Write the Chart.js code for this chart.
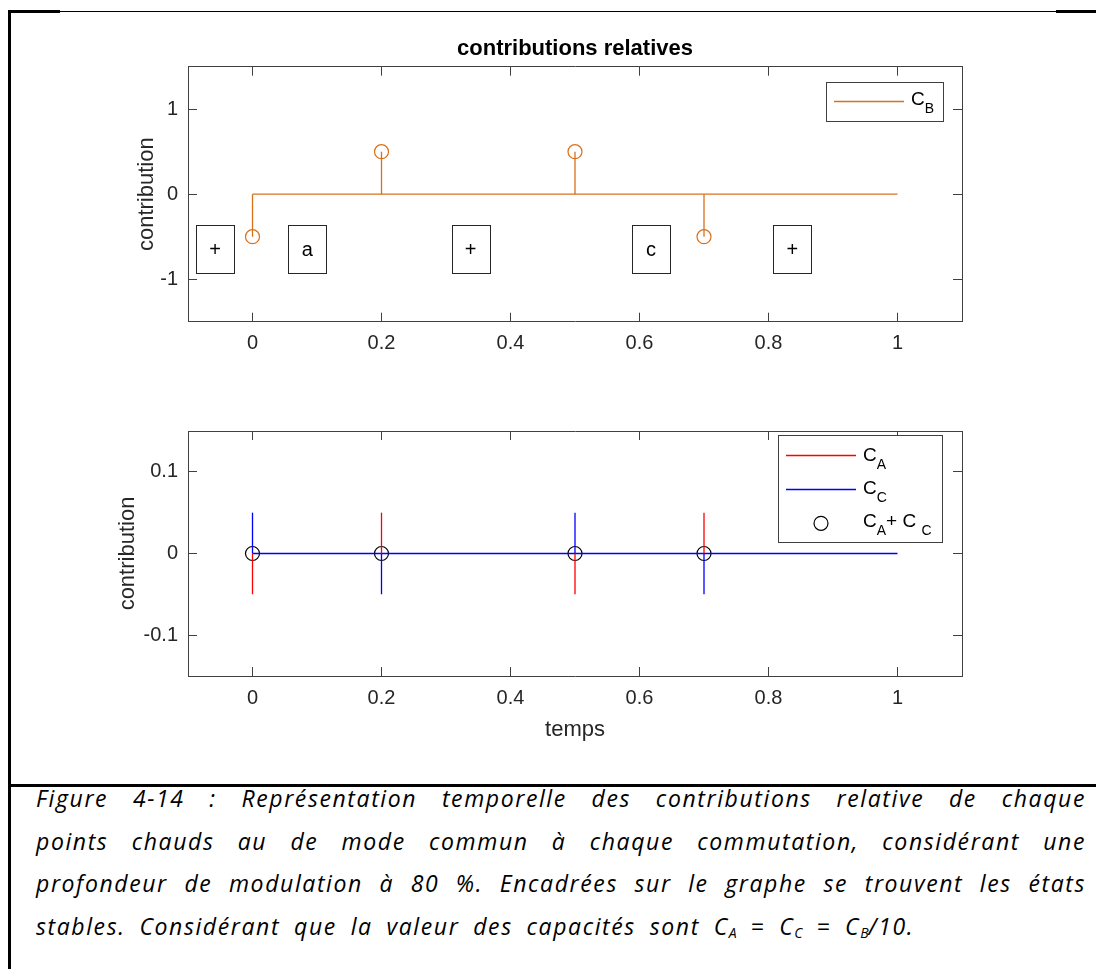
<!DOCTYPE html>
<html><head><meta charset="utf-8">
<script src="https://cdn.jsdelivr.net/npm/chart.js@4.4.1/dist/chart.umd.min.js"></script>
<style>
html,body{margin:0;padding:0;background:#fff;}
#page{position:relative;width:1096px;height:969px;overflow:hidden;background:#fff;font-family:"Liberation Sans",Arial,sans-serif;}
canvas{position:absolute;left:0;}
.hl{position:absolute;background:#000;}
.cap{position:absolute;left:36px;width:1050px;font-family:"Open Sans",sans-serif;font-style:italic;font-size:23px;letter-spacing:1.6px;word-spacing:6.3px;line-height:30px;color:#000;white-space:nowrap;}
.just{text-align:justify;text-align-last:justify;white-space:normal;}
.cap sub{font-size:14px;vertical-align:-3px;line-height:0;letter-spacing:0;}
</style></head>
<body>
<div id="page">
  <div class="hl" style="left:9px;top:11px;width:1087px;height:1px;"></div>
  <div class="hl" style="left:9px;top:10px;width:51px;height:3px;"></div>
  <div class="hl" style="left:1056px;top:10px;width:40px;height:3px;"></div>
  <div class="hl" style="left:8px;top:10px;width:3px;height:959px;"></div>
  <div class="hl" style="left:8px;top:784px;width:1088px;height:3px;"></div>

  <canvas id="c1" width="1096" height="400" style="top:0px;width:1096px;height:400px;"></canvas>
  <canvas id="c2" width="1096" height="380" style="top:400px;width:1096px;height:380px;"></canvas>

  <div class="cap just" style="top:783px;">Figure 4-14 : Représentation temporelle des contributions relative de chaque</div>
  <div class="cap just" style="top:826px;">points chauds au de mode commun à chaque commutation, considérant une</div>
  <div class="cap just" style="top:868px;">profondeur de modulation à 80 %. Encadrées sur le graphe se trouvent les états</div>
  <div class="cap" style="top:911px;">stables. Considérant que la valeur des capacités sont C<sub>A</sub> = C<sub>C</sub> = C<sub>B</sub>/10.</div>
</div>
<script>
// ---- data ----
const switchTimes = [0, 0.2, 0.5, 0.7];
const endTime = 1;
const cbValues = [-0.5, 0.5, 0.5, -0.5];
const caValues = [-0.05, 0.05, -0.05, 0.05];
const ccValues = [0.05, -0.05, 0.05, -0.05];
const xTickValues = [0, 0.2, 0.4, 0.6, 0.8, 1];
const xTickLabels = ['0', '0.2', '0.4', '0.6', '0.8', '1'];
const yTopTickValues = [-1, 0, 1];
const yTopTickLabels = ['-1', '0', '1'];
const yBotTickValues = [-0.1, 0, 0.1];
const yBotTickLabels = ['-0.1', '0', '0.1'];
const stateLabels = ['+', 'a', '+', 'c', '+'];
const stateTimes = [-0.058, 0.085, 0.338, 0.618, 0.837];
const stateLevels = [-0.65, -0.65, -0.65, -0.65, -0.65];

// ---- styles ----
const ORANGE = '#D9701A', RED = '#FF0000', BLUE = '#0000FF';
const AX = '#404040', TXT = '#262626', FONT = '"Liberation Sans", Arial, sans-serif';

function baseline(color) {
  return {data: [{x: switchTimes[0], y: 0}, {x: endTime, y: 0}], showLine: true,
          borderColor: color, borderWidth: 1.3, pointRadius: 0};
}
function stems(values, color) {
  return switchTimes.map((t, i) => ({data: [{x: t, y: 0}, {x: t, y: values[i]}], showLine: true,
          borderColor: color, borderWidth: 1.3, pointRadius: 0}));
}
function markers(points, color) {
  return {data: points, showLine: false, pointStyle: 'circle', pointRadius: 7, pointHoverRadius: 7,
          pointBorderColor: color, pointBackgroundColor: 'rgba(0,0,0,0)', pointBorderWidth: 1.2};
}
function setTicks(vals) { return s => { s.ticks = vals.map(v => ({value: v})); }; }

function makeScales(yMin, yMax, yVals, yLabs, xHeight, xTitle, yTitlePad) {
  const grid = {drawOnChartArea: false, drawTicks: true, tickLength: -9, color: AX, lineWidth: 1};
  const border = {display: true, color: AX, width: 1};
  return {
    x: {type: 'linear', position: 'bottom', min: -0.1, max: 1.1, afterBuildTicks: setTicks(xTickValues),
        ticks: {color: TXT, font: {family: FONT, size: 20}, padding: 19, maxRotation: 0, autoSkip: false,
                callback: (v, i) => xTickLabels[i]},
        grid: grid, border: border, title: xTitle, afterFit: s => { s.height = xHeight; }},
    x2: {type: 'linear', position: 'top', min: -0.1, max: 1.1, afterBuildTicks: setTicks(xTickValues),
        ticks: {display: false}, grid: grid, border: border, afterFit: s => { s.height = 0; }},
    y: {type: 'linear', position: 'left', min: yMin, max: yMax, afterBuildTicks: setTicks(yVals),
        ticks: {color: TXT, font: {family: FONT, size: 20}, padding: 19, autoSkip: false,
                callback: (v, i) => yLabs[i]},
        grid: grid, border: border,
        title: {display: true, text: 'contribution', color: TXT, font: {family: FONT, size: 22}, padding: {top: yTitlePad, bottom: 0}},
        afterFit: s => { s.width = 188; }},
    y2: {type: 'linear', position: 'right', min: yMin, max: yMax, afterBuildTicks: setTicks(yVals),
        ticks: {display: false}, grid: grid, border: border, afterFit: s => { s.width = 0; }}
  };
}

const stateBoxes = {id: 'stateBoxes', afterDatasetsDraw(chart) {
  const {ctx, scales: {x, y}} = chart;
  ctx.save();
  ctx.strokeStyle = '#262626'; ctx.lineWidth = 1;
  ctx.font = '20px ' + FONT; ctx.fillStyle = '#000'; ctx.textAlign = 'center'; ctx.textBaseline = 'middle';
  stateLabels.forEach((lab, i) => {
    const px = x.getPixelForValue(stateTimes[i]), py = y.getPixelForValue(stateLevels[i]);
    ctx.strokeRect(Math.round(px - 19) + 0.5, Math.round(py - 24) + 0.5, 38, 48);
    ctx.fillText(lab, px, py + 1);
  });
  ctx.restore();
}};

// MATLAB-style legend box drawn on the chart canvas (supports subscripts)
function makeLegend(id, box, items) {
  return {id: id, afterDraw(chart) {
    const ctx = chart.ctx;
    ctx.save();
    ctx.fillStyle = '#fff'; ctx.fillRect(box.x, box.y, box.w, box.h);
    ctx.strokeStyle = AX; ctx.lineWidth = 1; ctx.strokeRect(box.x + 0.5, box.y + 0.5, box.w, box.h);
    items.forEach(it => {
      ctx.strokeStyle = it.color;
      if (it.kind === 'line') {
        ctx.lineWidth = 1.3; ctx.beginPath();
        ctx.moveTo(box.x + 8, it.y); ctx.lineTo(box.x + 78, it.y); ctx.stroke();
      } else {
        ctx.lineWidth = 1.2; ctx.beginPath();
        ctx.arc(box.x + 43, it.y, 7, 0, 2 * Math.PI); ctx.stroke();
      }
      let tx = box.x + 85;
      ctx.fillStyle = '#000'; ctx.textAlign = 'left'; ctx.textBaseline = 'alphabetic';
      it.parts.forEach(p => {
        ctx.font = (p[1] ? '14px ' : '19px ') + FONT;
        ctx.fillText(p[0], tx, it.base + (p[1] ? 8 : 0));
        tx += ctx.measureText(p[0]).width;
      });
    });
    ctx.restore();
  }};
}

const legendTop = makeLegend('legTop', {x: 826, y: 82, w: 117, h: 39},
  [{kind: 'line', color: ORANGE, y: 101.5, base: 105, parts: [['C', 0], ['B', 1]]}]);
const legendBot = makeLegend('legBot', {x: 778, y: 35, w: 164, h: 107},
  [{kind: 'line', color: RED, y: 55.5, base: 60.7, parts: [['C', 0], ['A', 1]]},
   {kind: 'line', color: BLUE, y: 89.5, base: 94, parts: [['C', 0], ['C', 1]]},
   {kind: 'marker', color: '#000', y: 123.3, base: 127.3, parts: [['C', 0], ['A', 1], ['+ C ', 0], ['C', 1]]}]);

const common = {responsive: false, animation: false, devicePixelRatio: 1, events: []};

new Chart(document.getElementById('c1'), {
  type: 'scatter',
  data: {datasets: [baseline(ORANGE), ...stems(cbValues, ORANGE),
                    markers(switchTimes.map((t, i) => ({x: t, y: cbValues[i]})), ORANGE)]},
  options: Object.assign({}, common, {
    layout: {padding: {left: 0, right: 134, top: 0, bottom: 0}},
    plugins: {legend: {display: false}, tooltip: {enabled: false},
      title: {display: true, fullSize: false, text: 'contributions relatives', color: '#000',
              font: {family: FONT, size: 22, weight: 'bold'}, padding: {top: 36, bottom: 4.3}}},
    scales: makeScales(-1.5, 1.5, yTopTickValues, yTopTickLabels, 78.3, {display: false}, 134)
  }),
  plugins: [stateBoxes, legendTop]
});

new Chart(document.getElementById('c2'), {
  type: 'scatter',
  data: {datasets: [...stems(caValues, RED), baseline(BLUE), ...stems(ccValues, BLUE),
                    markers(switchTimes.map((t, i) => ({x: t, y: caValues[i] + ccValues[i]})), '#000')]},
  options: Object.assign({}, common, {
    layout: {padding: {left: 0, right: 134, top: 21.7, bottom: 0}},
    plugins: {legend: {display: false}, tooltip: {enabled: false}},
    scales: makeScales(-0.15, 0.15, yBotTickValues, yBotTickLabels, 104,
      {display: true, text: 'temps', color: TXT, font: {family: FONT, size: 22}, padding: {top: 0, bottom: 36.8}}, 115)
  }),
  plugins: [legendBot]
});
</script>
</body></html>
